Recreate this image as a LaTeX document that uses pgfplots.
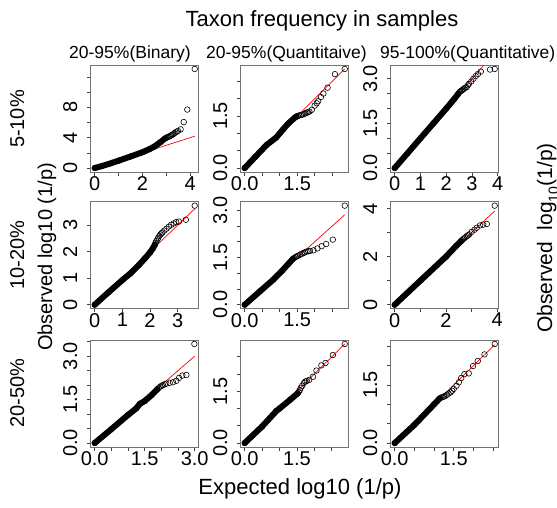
\documentclass[border=0pt]{standalone}
\usepackage{fontspec}
\setmainfont{Liberation Sans}
\usepackage{pgfplots}
\pgfplotsset{compat=1.18}
\pgfplotsset{
  qq/.style={
    scale only axis, width=108pt, height=107pt, anchor=north west,
    axis line style={black!55, line width=0.75pt},
    tick align=outside, xtick pos=left, ytick pos=left,
    major tick length=3.5pt, tick style={black!75, line width=0.7pt},
    minor tick num=0,
    xticklabel style={font=\fontsize{20}{20}\selectfont, anchor=north, inner sep=0pt, outer ysep=1pt},
    yticklabel style={font=\fontsize{20}{20}\selectfont, rotate=90, anchor=south, inner sep=0pt, outer ysep=10pt},
  },
  band/.style={black, line width=6pt, line cap=round, line join=round, mark=o, mark size=2.8pt, mark options={line width=0.6pt}},
  tail/.style={only marks, mark=o, mark size=2.8pt, mark options={black, line width=0.6pt}},
  refl/.style={red, line width=0.7pt},
}
\begin{document}
\begin{tikzpicture}
\path[use as bounding box] (0,0) rectangle (557pt,-507pt);
% ---------- row 1 ----------
\begin{axis}[qq, at={(90.7pt,-65pt)},
  xmin=-0.168, xmax=4.358, ymin=-0.522, ymax=13.572,
  xtick={0,1,2,3,4}, xticklabels={0,,2,,4},
  ytick={0,2,4,6,8,10,12}, yticklabels={0,,4,,8,,}]
\addplot[refl] coordinates {(0,0) (4.19,4.19)};
\addplot[band] coordinates {(0,0) (0.3,0.26) (0.6,0.55) (1.03,1.0) (1.5,1.52) (2.0,2.08) (2.3,2.5) (2.49,2.81) (2.74,3.38) (2.95,3.9)};
\addplot[tail] coordinates {(2.98,3.95) (3.02,4.02) (3.06,4.08) (3.1,4.13) (3.15,4.2) (3.2,4.3) (3.25,4.38) (3.29,4.46) (3.34,4.58) (3.38,4.7) (3.44,4.8) (3.49,4.89) (3.6,5.1) (3.73,6.06) (3.88,7.7) (4.19,13.05)};
\end{axis}
\begin{axis}[qq, at={(240.7pt,-65pt)},
  xmin=-0.114, xmax=2.974, ymin=-0.114, ymax=2.974,
  xtick={0,0.5,1,1.5,2,2.5}, xticklabels={0.0,,,1.5,,},
  ytick={0,0.5,1,1.5,2,2.5}, yticklabels={0.0,,,1.5,,}]
\addplot[refl] coordinates {(0,0) (2.86,2.86)};
\addplot[band] coordinates {(0,0) (0.3,0.32) (0.63,0.67) (0.9,0.88) (1.0,1.0) (1.1,1.12) (1.25,1.29) (1.44,1.46) (1.48,1.49)};
\addplot[tail] coordinates {(1.52,1.5) (1.56,1.52) (1.6,1.53) (1.65,1.54) (1.7,1.56) (1.74,1.58) (1.77,1.6) (1.81,1.61) (1.85,1.63) (1.92,1.68) (2.0,1.8) (2.06,1.87) (2.1,1.93) (2.18,2.05) (2.25,2.15) (2.37,2.32) (2.58,2.71) (2.86,2.86)};
\end{axis}
\begin{axis}[qq, at={(390.7pt,-65pt)},
  xmin=-0.155, xmax=4.035, ymin=-0.133, ymax=3.463,
  xtick={0,1,2,3,4}, xticklabels={0,1,2,3,4},
  ytick={0,0.5,1,1.5,2,2.5,3}, yticklabels={0.0,,,1.5,,,3.0}]
\addplot[refl] coordinates {(0,0) (3.88,3.88)};
\addplot[band] coordinates {(0,0) (0.5,0.5) (1.0,1.0) (1.5,1.5) (2.0,2.0) (2.3,2.31) (2.47,2.5)};
\addplot[tail] coordinates {(2.51,2.55) (2.55,2.58) (2.59,2.6) (2.62,2.62) (2.66,2.65) (2.69,2.67) (2.74,2.7) (2.79,2.72) (2.84,2.78) (2.88,2.83) (2.97,2.91) (3.05,3.0) (3.14,3.09) (3.23,3.16) (3.34,3.24) (3.7,3.31) (3.88,3.33)};
\end{axis}
% ---------- row 2 ----------
\begin{axis}[qq, at={(90.7pt,-201.7pt)},
  xmin=-0.145, xmax=3.765, ymin=-0.150, ymax=3.890,
  xtick={0,1,2,3}, xticklabels={0,1,2,3},
  ytick={0,1,2,3}, yticklabels={0,1,2,3}]
\addplot[refl] coordinates {(0,0) (3.62,3.62)};
\addplot[band] coordinates {(0,0) (0.5,0.47) (1.0,0.93) (1.3,1.19) (1.6,1.5) (1.8,1.73) (2.0,1.97) (2.1,2.12) (2.18,2.27)};
\addplot[tail] coordinates {(2.2,2.33) (2.23,2.4) (2.27,2.47) (2.3,2.53) (2.34,2.6) (2.38,2.65) (2.42,2.7) (2.45,2.73) (2.52,2.8) (2.6,2.87) (2.68,2.95) (2.77,3.02) (2.86,3.07) (2.95,3.12) (3.05,3.14) (3.3,3.21) (3.62,3.74)};
\end{axis}
\begin{axis}[qq, at={(240.7pt,-201.7pt)},
  xmin=-0.114, xmax=2.974, ymin=-0.126, ymax=3.276,
  xtick={0,0.5,1,1.5,2,2.5}, xticklabels={0.0,,,1.5,,},
  ytick={0,0.5,1,1.5,2,2.5,3}, yticklabels={0.0,,,1.5,,,3.0}]
\addplot[refl] coordinates {(0,0) (2.86,2.86)};
\addplot[band] coordinates {(0,0) (0.44,0.43) (0.82,0.8) (1.06,1.07) (1.25,1.3) (1.38,1.46)};
\addplot[tail] coordinates {(1.42,1.49) (1.46,1.52) (1.49,1.54) (1.53,1.56) (1.58,1.59) (1.63,1.62) (1.68,1.64) (1.72,1.67) (1.77,1.69) (1.82,1.7) (1.87,1.71) (1.97,1.73) (2.08,1.79) (2.2,1.86) (2.33,1.93) (2.52,2.07) (2.86,3.15)};
\end{axis}
\begin{axis}[qq, at={(390.7pt,-201.7pt)},
  xmin=-0.156, xmax=4.056, ymin=-0.165, ymax=4.285,
  xtick={0,1,2,3,4}, xticklabels={0,,2,,4},
  ytick={0,1,2,3,4}, yticklabels={0,,2,,4}]
\addplot[refl] coordinates {(0,0) (3.9,3.9)};
\addplot[band] coordinates {(0,0) (1,1) (2,2) (2.4,2.45) (2.58,2.64)};
\addplot[tail] coordinates {(2.62,2.68) (2.66,2.72) (2.7,2.75) (2.75,2.8) (2.81,2.85) (2.86,2.89) (2.91,2.93) (3.0,3.03) (3.11,3.12) (3.2,3.2) (3.33,3.3) (3.45,3.33) (3.59,3.36) (3.9,4.12)};
\end{axis}
% ---------- row 3 ----------
\begin{axis}[qq, at={(90.7pt,-340pt)},
  xmin=-0.12, xmax=3.12, ymin=-0.137, ymax=3.557,
  xtick={0,0.5,1,1.5,2,2.5,3}, xticklabels={0.0,,,1.5,,,3.0},
  ytick={0,0.5,1,1.5,2,2.5,3,3.5}, yticklabels={0.0,,,1.5,,,3.0,}]
\addplot[refl] coordinates {(0,0) (3.0,3.0)};
\addplot[band] coordinates {(0,0) (0.5,0.48) (1.0,0.97) (1.25,1.2) (1.35,1.35) (1.5,1.45) (1.7,1.65) (1.88,1.86)};
\addplot[tail] coordinates {(1.92,1.9) (1.97,1.95) (2.01,1.98) (2.05,2.0) (2.1,2.03) (2.15,2.05) (2.25,2.08) (2.35,2.1) (2.45,2.15) (2.53,2.25) (2.63,2.33) (2.75,2.35) (2.99,3.42)};
\end{axis}
\begin{axis}[qq, at={(240.7pt,-340pt)},
  xmin=-0.115, xmax=2.985, ymin=-0.115, ymax=2.985,
  xtick={0,0.5,1,1.5,2,2.5}, xticklabels={0.0,,,1.5,,},
  ytick={0,0.5,1,1.5,2,2.5}, yticklabels={0.0,,,1.5,,}]
\addplot[refl] coordinates {(0,0) (2.87,2.87)};
\addplot[band] coordinates {(0,0) (0.5,0.48) (0.91,0.93) (1.0,1.0) (1.3,1.25) (1.52,1.44)};
\addplot[tail] coordinates {(1.55,1.48) (1.58,1.53) (1.61,1.6) (1.65,1.66) (1.7,1.74) (1.74,1.78) (1.78,1.8) (1.85,1.83) (1.96,1.92) (2.06,2.1) (2.2,2.25) (2.32,2.32) (2.53,2.55) (2.87,2.87)};
\end{axis}
\begin{axis}[qq, at={(390.7pt,-340pt)},
  xmin=-0.102, xmax=2.642, ymin=-0.102, ymax=2.662,
  xtick={0,0.5,1,1.5,2,2.5}, xticklabels={0.0,,,1.5,,},
  ytick={0,0.5,1,1.5,2,2.5}, yticklabels={0.0,,,1.5,,}]
\addplot[refl] coordinates {(0,0) (2.54,2.54)};
\addplot[band] coordinates {(0,0) (0.5,0.47) (1.0,1.0) (1.15,1.16)};
\addplot[tail] coordinates {(1.19,1.18) (1.22,1.19) (1.25,1.2) (1.29,1.22) (1.33,1.25) (1.37,1.28) (1.42,1.31) (1.46,1.35) (1.5,1.4) (1.57,1.48) (1.63,1.57) (1.69,1.68) (1.77,1.78) (1.88,1.8) (1.99,1.99) (2.11,2.12) (2.28,2.29) (2.54,2.56)};
\end{axis}
% ---------- texts ----------
\node[font=\fontsize{22}{22}\selectfont, anchor=base] at (322pt,-26pt) {Taxon frequency in samples};
\node[font=\fontsize{17.5}{17.5}\selectfont, anchor=base west, inner sep=0pt] at (69pt,-58pt) {20-95\%(Binary)};
\node[font=\fontsize{17.5}{17.5}\selectfont, anchor=base west, inner sep=0pt] at (206pt,-58pt) {20-95\%(Quantitaive)};
\node[font=\fontsize{17.5}{17.5}\selectfont, anchor=base west, inner sep=0pt] at (380pt,-58pt) {95-100\%(Quantitative)};
\node[font=\fontsize{20}{20}\selectfont, rotate=90, anchor=base] at (24pt,-119pt) {5-10\%};
\node[font=\fontsize{20}{20}\selectfont, rotate=90, anchor=base] at (24pt,-255pt) {10-20\%};
\node[font=\fontsize{20}{20}\selectfont, rotate=90, anchor=base] at (24pt,-393pt) {20-50\%};
\node[font=\fontsize{20}{20}\selectfont, rotate=90, anchor=base] at (52pt,-257pt) {Observed log10 (1/p)};
\node[font=\fontsize{21}{21}\selectfont, rotate=90, anchor=base] at (552pt,-238pt) {Observed\ \ log\raisebox{-0.3em}{\fontsize{14}{14}\selectfont 10}(1/p)};
\node[font=\fontsize{22}{22}\selectfont, anchor=base] at (300pt,-494pt) {Expected log10 (1/p)};
\end{tikzpicture}
\end{document}
